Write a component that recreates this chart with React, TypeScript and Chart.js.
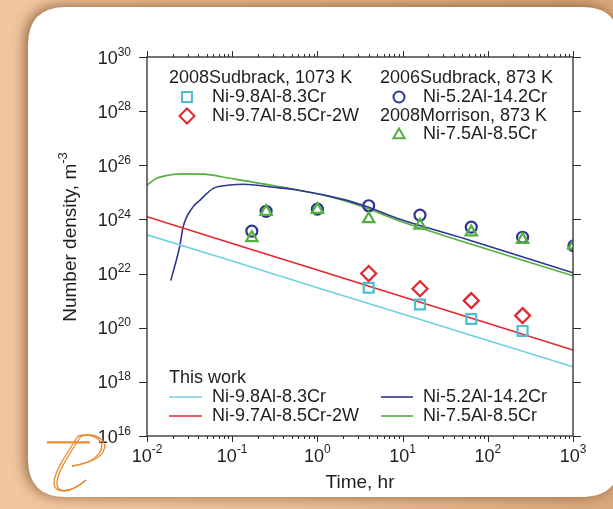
import React, { useEffect, useRef } from 'react';
import { Chart, registerables } from 'chart.js';
Chart.register(...registerables);

const FONT = '"Liberation Sans", Arial, Helvetica, sans-serif';
const W = 613;
const H = 509;

// axis tick exponents
const xTickExponents = [-2, -1, 0, 1, 2, 3];
const yTickExponents = [16, 18, 20, 22, 24, 26, 28, 30];

// experimental data (markers)
const expTimeHr = [0.17, 0.25, 1, 4, 16, 64, 256, 1024];
const sudbrack2006Circle = [3.7e23, 2.0e24, 2.4e24, 3.2e24, 1.45e24, 5.2e23, 2.2e23, 1.05e23];
const morrison2008Triangle = [2.1e23, 1.95e24, 2.3e24, 1.05e24, 6.0e23, 3.4e23, 1.8e23, 1.1e23];
const sudbrack2008Time = [4, 16, 64, 256];
const sudbrack2008Square = [3.0e21, 7.2e20, 2.1e20, 7.6e19];
const sudbrack2008Diamond = [1.0e22, 2.75e21, 1.0e21, 2.8e20];

// model curves (This work)
const modelStraightTime = [0.01, 0.1, 1, 10, 100, 1000];
const modelCyan = [2.7e23, 2.9e22, 3.0e21, 3.2e20, 3.4e19, 3.6e18];
const modelRed = [1.26e24, 1.3e23, 1.35e22, 1.4e21, 1.45e20, 1.5e19];
const modelBlueTime = [0.019, 0.0244, 0.0265, 0.0347, 0.042, 0.06, 0.094, 0.135, 0.3, 0.575, 2.0, 4.0, 8.6, 51.6, 1000];
const modelBlue = [5.5e21, 1.15e23, 5.2e23, 2.9e24, 5.2e24, 1.4e25, 1.86e25, 2.0e25, 1.55e25, 1.23e25, 5.5e24, 2.8e24, 1.1e24, 2.0e23, 1.07e22];
const modelGreenTime = [0.01, 0.013, 0.0186, 0.029, 0.046, 0.094, 0.366, 1.41, 3.45, 8.6, 51.6, 1000];
const modelGreen = [1.86e25, 3.3e25, 4.4e25, 4.8e25, 4.7e25, 3.3e25, 1.6e25, 6.9e24, 2.9e24, 9.5e23, 1.5e23, 8.3e21];

const C_CYAN_M = '#4cbfd3';
const C_CYAN_L = '#6fd0e0';
const C_RED = '#e2262c';
const C_BLUE = '#2e3592';
const C_GREEN = '#52b03e';
const C_TEXT = '#1e1e1e';

const pts = (xs: number[], ys: number[]) => xs.map((x, i) => ({ x, y: ys[i] }));

function drawPow(ctx: CanvasRenderingContext2D, x: number, y: number, exp: string, align: string, baseSize: number, expSize: number, rise: number) {
  const bf = `${baseSize}px ${FONT}`;
  const ef = `${expSize}px ${FONT}`;
  ctx.font = bf;
  const bw = ctx.measureText('10').width;
  ctx.font = ef;
  const ew = ctx.measureText(exp).width;
  const total = bw + ew;
  const left = align === 'center' ? x - total / 2 : align === 'right' ? x - total : x;
  ctx.textAlign = 'left';
  ctx.textBaseline = 'alphabetic';
  ctx.font = bf;
  ctx.fillText('10', left, y);
  ctx.font = ef;
  ctx.fillText(exp, left + bw, y - rise);
}

function marker(ctx: CanvasRenderingContext2D, style: string, x: number, y: number, r: number, color: string) {
  ctx.save();
  ctx.strokeStyle = color;
  ctx.lineWidth = 2;
  ctx.beginPath();
  if (style === 'rect') {
    const s = r * Math.SQRT1_2;
    ctx.rect(x - s, y - s, 2 * s, 2 * s);
  } else if (style === 'circle') {
    ctx.arc(x, y, r, 0, Math.PI * 2);
  } else if (style === 'rectRot') {
    ctx.moveTo(x - r, y); ctx.lineTo(x, y - r); ctx.lineTo(x + r, y); ctx.lineTo(x, y + r); ctx.closePath();
  } else if (style === 'triangle') {
    const h = r * 1.5;
    ctx.moveTo(x, y - r);
    ctx.lineTo(x + r * 0.866 * 1.0, y + r * 0.5);
    ctx.lineTo(x - r * 0.866, y + r * 0.5);
    ctx.closePath();
  }
  ctx.stroke();
  ctx.restore();
}

function roundRect(ctx: CanvasRenderingContext2D, x: number, y: number, w: number, h: number, r: number) {
  ctx.beginPath();
  ctx.moveTo(x + r, y);
  ctx.lineTo(x + w - r, y);
  ctx.quadraticCurveTo(x + w, y, x + w, y + r);
  ctx.lineTo(x + w, y + h - r);
  ctx.quadraticCurveTo(x + w, y + h, x + w - r, y + h);
  ctx.lineTo(x + r, y + h);
  ctx.quadraticCurveTo(x, y + h, x, y + h - r);
  ctx.lineTo(x, y + r);
  ctx.quadraticCurveTo(x, y, x + r, y);
  ctx.closePath();
}

const decorPlugin = {
  id: 'decor',
  beforeDraw(chart: any) {
    const ctx: CanvasRenderingContext2D = chart.ctx;
    ctx.save();
    const g = ctx.createLinearGradient(0, 0, W, 0);
    g.addColorStop(0, '#f2c7a0');
    g.addColorStop(0.5, '#e9bd94');
    g.addColorStop(1, '#d9a77c');
    ctx.fillStyle = g;
    ctx.fillRect(0, 0, W, H);
    ctx.shadowColor = 'rgba(110,65,25,0.75)';
    ctx.shadowBlur = 14;
    ctx.shadowOffsetX = -3;
    ctx.shadowOffsetY = -1;
    ctx.fillStyle = '#ffffff';
    roundRect(ctx, 28, 7, 592, 490, 38);
    ctx.fill();
    ctx.restore();
  },
  afterDraw(chart: any) {
    const ctx: CanvasRenderingContext2D = chart.ctx;
    const xs = chart.scales.x;
    const ys = chart.scales.y;
    const a = chart.chartArea;
    ctx.save();
    // frame
    ctx.strokeStyle = '#2a2a2a';
    ctx.lineWidth = 1.3;
    ctx.strokeRect(a.left, a.top, a.right - a.left, a.bottom - a.top);
    // y ticks (left & right, outward)
    ctx.beginPath();
    for (const e of yTickExponents) {
      const py = Math.round(ys.getPixelForValue(Math.pow(10, e))) + 0.5;
      ctx.moveTo(a.left - 8, py); ctx.lineTo(a.left, py);
      ctx.moveTo(a.right, py); ctx.lineTo(a.right + 8, py);
    }
    // x ticks (top & bottom, outward)
    for (let e = -2; e <= 3; e++) {
      for (let m = 1; m <= 9; m++) {
        const v = m * Math.pow(10, e);
        if (v > 1000.0001) break;
        const px = Math.round(xs.getPixelForValue(v)) + 0.5;
        const len = m === 1 ? 6 : 3;
        ctx.moveTo(px, a.bottom); ctx.lineTo(px, a.bottom + len);
        ctx.moveTo(px, a.top); ctx.lineTo(px, a.top - len);
      }
    }
    ctx.lineWidth = 1;
    ctx.stroke();

    ctx.fillStyle = C_TEXT;
    // y tick labels
    for (const e of yTickExponents) {
      const py = ys.getPixelForValue(Math.pow(10, e));
      drawPow(ctx, 131, py + 6.5, String(e), 'right', 18, 12, 8);
    }
    // x tick labels
    for (const e of xTickExponents) {
      const px = xs.getPixelForValue(Math.pow(10, e));
      drawPow(ctx, px, 462, String(e), 'center', 18, 12, 9);
    }
    // axis titles
    ctx.font = `19px ${FONT}`;
    ctx.textAlign = 'center';
    ctx.textBaseline = 'middle';
    ctx.fillText('Time, hr', (a.left + a.right) / 2, 483);
    ctx.save();
    ctx.translate(69, 237);
    ctx.rotate(-Math.PI / 2);
    ctx.font = `19px ${FONT}`;
    const t1 = 'Number density, m';
    const w1 = ctx.measureText(t1).width;
    ctx.font = `13px ${FONT}`;
    const w2 = ctx.measureText('-3').width;
    const left = -(w1 + w2) / 2;
    ctx.textAlign = 'left';
    ctx.textBaseline = 'alphabetic';
    ctx.font = `19px ${FONT}`;
    ctx.fillText(t1, left, 7);
    ctx.font = `13px ${FONT}`;
    ctx.fillText('-3', left + w1, -2);
    ctx.restore();

    // top legend
    ctx.font = `18px ${FONT}`;
    ctx.textAlign = 'left';
    ctx.textBaseline = 'middle';
    ctx.fillStyle = C_TEXT;
    ctx.fillText('2008Sudbrack, 1073 K', 169, 78);
    ctx.fillText('Ni-9.8Al-8.3Cr', 212, 97);
    ctx.fillText('Ni-9.7Al-8.5Cr-2W', 212, 116);
    ctx.fillText('2006Sudbrack, 873 K', 380, 78);
    ctx.fillText('Ni-5.2Al-14.2Cr', 423, 97);
    ctx.fillText('2008Morrison, 873 K', 380, 116);
    ctx.fillText('Ni-7.5Al-8.5Cr', 423, 134);
    marker(ctx, 'rect', 187, 97, 7, C_CYAN_M);
    marker(ctx, 'rectRot', 187, 116, 7.5, C_RED);
    marker(ctx, 'circle', 399, 97, 5.5, C_BLUE);
    marker(ctx, 'triangle', 399, 135, 6.5, C_GREEN);

    // bottom legend
    ctx.fillStyle = C_TEXT;
    ctx.fillText('This work', 169, 378);
    ctx.fillText('Ni-9.8Al-8.3Cr', 212, 397);
    ctx.fillText('Ni-9.7Al-8.5Cr-2W', 212, 416);
    ctx.fillText('Ni-5.2Al-14.2Cr', 423, 397);
    ctx.fillText('Ni-7.5Al-8.5Cr', 423, 416);
    const seg = (x1: number, x2: number, y: number, c: string) => {
      ctx.beginPath(); ctx.strokeStyle = c; ctx.lineWidth = 1.6;
      ctx.moveTo(x1, y); ctx.lineTo(x2, y); ctx.stroke();
    };
    seg(169, 202, 397, C_CYAN_L);
    seg(169, 202, 416, C_RED);
    seg(381, 413, 397, C_BLUE);
    seg(381, 413, 416, C_GREEN);

    // logo
    ctx.strokeStyle = '#e8892f';
    ctx.lineWidth = 1.3;
    for (const o of [0, 3]) {
      ctx.beginPath();
      ctx.moveTo(47, 442 + o * 0.3);
      ctx.lineTo(90, 442 + o * 0.3);
      ctx.stroke();
      ctx.beginPath();
      ctx.moveTo(78 + o, 436);
      ctx.bezierCurveTo(95 + o, 432, 106 + o, 442, 100 + o, 452);
      ctx.bezierCurveTo(95 + o, 460, 85, 464, 72, 466);
      ctx.stroke();
      ctx.beginPath();
      ctx.moveTo(78 + o, 436);
      ctx.bezierCurveTo(68 + o, 452, 55 + o, 470, 54 + o, 482);
      ctx.bezierCurveTo(53 + o, 494, 70, 494, 86, 480);
      ctx.stroke();
    }
    ctx.restore();
  },
};

export default function App() {
  const ref = useRef<HTMLCanvasElement | null>(null);
  useEffect(() => {
    if (!ref.current) return;
    const lineDs = (label: string, xsArr: number[], ysArr: number[], color: string, smooth: boolean) => ({
      label,
      data: pts(xsArr, ysArr),
      borderColor: color,
      backgroundColor: color,
      borderWidth: 1.6,
      pointRadius: 0,
      showLine: true,
      fill: false,
      cubicInterpolationMode: smooth ? 'monotone' : 'default',
      tension: 0,
      order: 2,
    });
    const markDs = (label: string, xsArr: number[], ysArr: number[], color: string, style: string, r: number) => ({
      label,
      data: pts(xsArr, ysArr),
      borderColor: color,
      backgroundColor: 'rgba(0,0,0,0)',
      borderWidth: 2,
      pointStyle: style,
      pointRadius: r,
      pointBorderWidth: 2.2,
      showLine: false,
      order: 1,
    });
    const chart = new Chart(ref.current, {
      type: 'line',
      data: {
        datasets: [
          lineDs('Ni-9.8Al-8.3Cr (This work)', modelStraightTime, modelCyan, C_CYAN_L, false),
          lineDs('Ni-9.7Al-8.5Cr-2W (This work)', modelStraightTime, modelRed, C_RED, false),
          lineDs('Ni-5.2Al-14.2Cr (This work)', modelBlueTime, modelBlue, C_BLUE, true),
          lineDs('Ni-7.5Al-8.5Cr (This work)', modelGreenTime, modelGreen, C_GREEN, true),
          markDs('2008Sudbrack Ni-9.8Al-8.3Cr', sudbrack2008Time, sudbrack2008Square, C_CYAN_M, 'rect', 7),
          markDs('2008Sudbrack Ni-9.7Al-8.5Cr-2W', sudbrack2008Time, sudbrack2008Diamond, C_RED, 'rectRot', 7.5),
          markDs('2008Morrison Ni-7.5Al-8.5Cr', expTimeHr, morrison2008Triangle, C_GREEN, 'triangle', 6.5),
          markDs('2006Sudbrack Ni-5.2Al-14.2Cr', expTimeHr, sudbrack2006Circle, C_BLUE, 'circle', 5.5),
        ] as any,
      },
      options: {
        responsive: false,
        animation: false,
        devicePixelRatio: 1,
        layout: { padding: { left: 147, right: 40, top: 57, bottom: 73 } },
        plugins: { legend: { display: false }, tooltip: { enabled: false } },
        scales: {
          x: { type: 'logarithmic', min: 0.01, max: 1000, display: false },
          y: { type: 'logarithmic', min: 1e16, max: 1e30, display: false },
        },
      } as any,
      plugins: [decorPlugin],
    });
    return () => chart.destroy();
  }, []);
  return (
    <div style={{ position: 'fixed', left: 0, top: 0, width: W, height: H }}>
      <canvas ref={ref} width={W} height={H} style={{ display: 'block', width: W, height: H }} />
    </div>
  );
}
